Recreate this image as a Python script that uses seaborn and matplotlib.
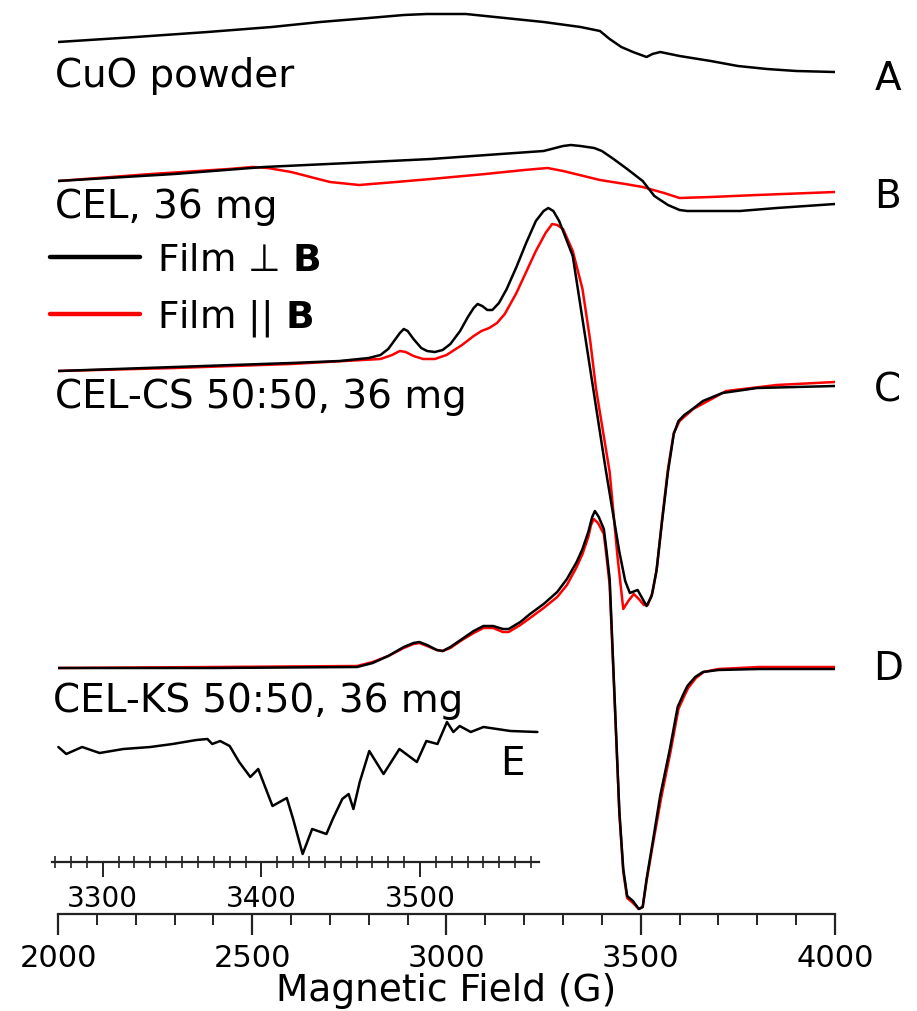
## EPR spectra - recreacao do grafico
import numpy as np
import pandas as pd
import seaborn as sns
import matplotlib.pyplot as plt
from matplotlib.lines import Line2D
from matplotlib.ticker import MultipleLocator

## Dados (campo em G, sinal em unidades arbitrarias)
a_field = [2000, 2200, 2385, 2550, 2675, 2800, 2890, 2950, 3050, 3150, 3250, 3345,
           3395, 3420, 3450, 3480, 3515, 3530, 3550, 3600, 3680, 3750, 3825, 3900, 4000]
a_perp = [0, 5, 10, 15, 20, 24, 27, 28, 28, 24, 20, 15,
          11, 3, -5, -10, -15, -12, -10, -14, -19, -24, -27, -29, -30]

b_field_perp = [2000, 2300, 2530, 2750, 2960, 3140, 3250, 3300, 3320, 3345, 3380, 3400,
                3430, 3465, 3505, 3535, 3570, 3600, 3620, 3755, 3850, 4000]
b_perp = [0, 7, 14, 18, 22, 27, 30, 35, 36, 35, 33, 30,
          22, 12, 0, -15, -24, -29, -30, -30, -27, -23]
b_field_par = [2000, 2240, 2440, 2500, 2540, 2600, 2700, 2775, 2870, 2960, 3100, 3200,
               3260, 3300, 3395, 3460, 3505, 3560, 3600, 3680, 3800, 4000]
b_par = [0, 7, 12, 14, 13, 9, -1, -4, -1, 2, 7, 11,
         13, 10, 1, -3, -6, -12, -17, -16, -14, -11]

c_field_perp = [2000, 2300, 2600, 2725, 2800, 2830, 2850, 2865, 2880, 2890, 2900, 2915,
                2935, 2950, 2970, 2990, 3010, 3035, 3055, 3070, 3080, 3092, 3105, 3118,
                3135, 3155, 3180, 3205, 3230, 3250, 3262, 3275, 3290, 3305, 3325, 3350,
                3375, 3410, 3445, 3460, 3472, 3485, 3492, 3502, 3515, 3528, 3540, 3555,
                3570, 3585, 3597, 3612, 3630, 3660, 3710, 3800, 3900, 4000]
c_perp = [0, 4, 8, 10, 13, 16, 22, 30, 38, 42, 40, 32,
          23, 20, 19, 21, 27, 40, 54, 63, 67, 65, 61, 61,
          68, 82, 104, 128, 150, 160, 163, 160, 150, 135, 115, 52,
          -11, -99, -181, -210, -222, -220, -219, -226, -235, -225, -201, -150,
          -101, -63, -50, -44, -39, -30, -22, -17, -16, -15]
c_field_par = [2000, 2300, 2600, 2830, 2860, 2880, 2895, 2915, 2940, 2970, 3000, 3040,
               3070, 3090, 3110, 3130, 3150, 3180, 3205, 3230, 3255, 3272, 3285, 3300,
               3325, 3350, 3370, 3385, 3420, 3440, 3455, 3468, 3482, 3495, 3508, 3518,
               3530, 3542, 3555, 3570, 3585, 3600, 3635, 3720, 3850, 4000]
c_par = [0, 3, 7, 12, 16, 20, 19, 15, 12, 12, 16, 26,
         35, 40, 43, 48, 57, 78, 99, 120, 138, 147, 146, 142,
         120, 82, 30, -18, -101, -185, -238, -230, -223, -228, -234, -234,
         -222, -196, -148, -98, -62, -50, -38, -20, -14, -11]

d_field_perp = [2000, 2400, 2770, 2810, 2850, 2890, 2915, 2930, 2950, 2975, 2990, 3010,
                3040, 3070, 3095, 3120, 3145, 3160, 3190, 3215, 3250, 3285, 3310, 3335,
                3350, 3365, 3375, 3382, 3392, 3405, 3412, 3420, 3432, 3445, 3455, 3465,
                3480, 3495, 3505, 3515, 3530, 3550, 3575, 3595, 3610, 3620, 3640, 3660,
                3700, 3805, 4000]
d_perp = [1, 1, 2, 6, 13, 22, 26, 27, 24, 19, 18, 22,
          30, 38, 43, 43, 40, 40, 47, 55, 65, 77, 90, 107,
          120, 137, 152, 158, 152, 140, 118, 90, -22, -143, -200, -227,
          -232, -240, -238, -210, -175, -127, -80, -38, -25, -17, -8, -3,
          -1, 0, 0]
d_field_par = [2000, 2400, 2770, 2810, 2850, 2890, 2915, 2930, 2950, 2975, 2990, 3010,
               3040, 3070, 3095, 3120, 3145, 3160, 3190, 3215, 3250, 3285, 3310, 3335,
               3350, 3365, 3372, 3379, 3390, 3405, 3412, 3420, 3432, 3445, 3455, 3465,
               3480, 3495, 3505, 3515, 3530, 3552, 3577, 3597, 3612, 3622, 3642, 3662,
               3700, 3805, 4000]
d_par = [1, 2, 3, 7, 13, 21, 25, 26, 23, 19, 18, 21,
         29, 36, 41, 41, 37, 37, 44, 51, 61, 72, 84, 102,
         115, 132, 144, 150, 146, 135, 112, 84, -25, -145, -203, -229,
         -234, -240, -238, -212, -178, -130, -82, -40, -27, -19, -9, -3,
         0, 2, 2]

# inset E
e_field = [3272, 3277, 3287, 3298, 3313, 3330, 3344, 3359, 3366, 3369, 3374, 3380,
           3386, 3393, 3398, 3407, 3416, 3420, 3426, 3432, 3441, 3445, 3451, 3455,
           3458, 3462, 3468, 3477, 3487, 3498, 3504, 3511, 3517, 3521, 3525, 3532,
           3540, 3557, 3574]
e_signal = [2, -5, 2, -4, 0, 2, 5, 9, 10, 5, 8, 3,
            -13, -28, -20, -57, -49, -70, -105, -80, -85, -70, -50, -45,
            -60, -33, -2, -25, 0, -13, 8, 5, 27, 17, 23, 17,
            22, 18, 17]

offsets = {'A': 872, 'B': 733, 'C': 543, 'D': 245}
nomes = ['CuO powder', 'CEL, 36 mg', 'CEL-CS 50:50, 36 mg', 'CEL-KS 50:50, 36 mg']

## Estilo
sns.set_style('white')
plt.rcParams['font.family'] = ['DejaVu Sans']
plt.rcParams['text.color'] = 'black'
plt.rcParams['axes.labelcolor'] = 'black'
plt.rcParams['xtick.color'] = 'black'

fig = plt.figure(figsize=(9.17, 10.12), dpi=100)
ax = fig.add_axes([58 / 917, 97 / 1012, 777 / 917, 915 / 1012])

preto = 'black'
vermelho = '#ff0000'
lw = 1.8

# Curvas (vermelho embaixo, preto por cima)
series = [
    ('B', b_field_par, b_par, vermelho),
    ('C', c_field_par, c_par, vermelho),
    ('D', d_field_par, d_par, vermelho),
    ('A', a_field, a_perp, preto),
    ('B', b_field_perp, b_perp, preto),
    ('C', c_field_perp, c_perp, preto),
    ('D', d_field_perp, d_perp, preto),
]
for letra, fx, sy, cor in series:
    df = pd.DataFrame({'field': fx, 'y': np.array(sy) + offsets[letra]})
    sns.lineplot(data=df, x='field', y='y', ax=ax, color=cor, lw=lw,
                 sort=False, estimator=None)

ax.set_xlim(2000, 4000)
ax.set_ylim(0, 915)

# Eixos
for s in ['left', 'right', 'top']:
    ax.spines[s].set_visible(False)
ax.spines['bottom'].set_linewidth(1.6)
ax.spines['bottom'].set_color('#222222')
ax.set_yticks([])
ax.set_ylabel('')
ax.xaxis.set_major_locator(MultipleLocator(500))
ax.xaxis.set_minor_locator(MultipleLocator(100))
ax.tick_params(axis='x', which='both', bottom=True)
ax.tick_params(axis='x', which='major', direction='out', length=15, width=1.6,
               labelsize=22, pad=6, color='#222222')
ax.tick_params(axis='x', which='minor', direction='out', length=8, width=1.4,
               color='#222222')
ax.set_xlabel('Magnetic Field (G)', fontsize=27, labelpad=0)

# Textos
fs = 28
ax.text(1992, 828, nomes[0], fontsize=fs, va='baseline')
ax.text(1992, 697, nomes[1], fontsize=fs, va='baseline')
ax.text(1992, 507, nomes[2], fontsize=fs, va='baseline')
ax.text(1987, 203, nomes[3], fontsize=fs, va='baseline')
for letra, yb in zip(['A', 'B', 'C', 'D'], [825, 707, 513, 235]):
    ax.text(4136, yb, letra, fontsize=fs, va='baseline', ha='center', clip_on=False)

# Legenda
handles = [Line2D([], [], color=preto, lw=3.2), Line2D([], [], color=vermelho, lw=3.2)]
ax.legend(handles, ['Film ⊥ $\\mathbf{B}$', 'Film || $\\mathbf{B}$'],
          loc='upper left', bbox_to_anchor=(-0.0103, 0.734), frameon=False,
          fontsize=27, handlelength=2.4, handletextpad=0.45, labelspacing=0.5,
          borderpad=0, borderaxespad=0)

## Inset E
axi = fig.add_axes([52 / 917, 149 / 1012, 487 / 917, 163 / 1012])
axi.patch.set_visible(False)
dfe = pd.DataFrame({'field': e_field, 'y': e_signal})
sns.lineplot(data=dfe, x='field', y='y', ax=axi, color=preto, lw=lw,
             sort=False, estimator=None)
axi.set_xlim(3268, 3575)
axi.set_ylim(-113, 50)
for s in ['left', 'right', 'top']:
    axi.spines[s].set_visible(False)
axi.spines['bottom'].set_linewidth(1.6)
axi.spines['bottom'].set_color('#222222')
axi.set_yticks([])
axi.set_xlabel('')
axi.set_ylabel('')
axi.xaxis.set_major_locator(MultipleLocator(100))
axi.xaxis.set_minor_locator(MultipleLocator(10))
axi.tick_params(axis='x', which='both', bottom=True)
axi.tick_params(axis='x', which='major', direction='out', length=11, width=1.4,
                labelsize=20, pad=5, color='#222222')
axi.tick_params(axis='x', which='minor', direction='inout', length=8, width=1.2,
                color='#222222')
axi.text(3558, -25, 'E', fontsize=fs, va='baseline', ha='center')

fig.savefig('out.png', dpi=100)
